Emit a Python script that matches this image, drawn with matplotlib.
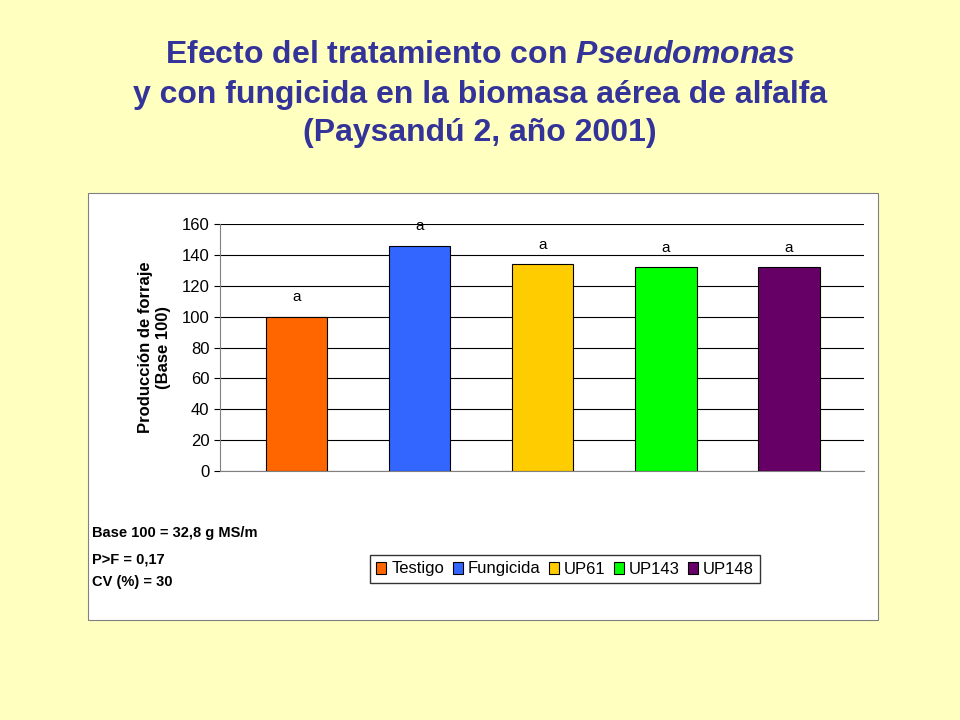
import matplotlib
matplotlib.use("Agg")
import matplotlib.pyplot as plt
from matplotlib.patches import Rectangle

categories = ["Testigo", "Fungicida", "UP61", "UP143", "UP148"]
values = [100, 146, 134, 132, 132]
letters = ["a", "a", "a", "a", "a"]
colors = ["#FF6600", "#3366FF", "#FFCC00", "#00FF00", "#660066"]
yticks = [0, 20, 40, 60, 80, 100, 120, 140, 160]

plt.rcParams["font.family"] = "Liberation Sans"
plt.rcParams["mathtext.fontset"] = "custom"
plt.rcParams["mathtext.it"] = "Liberation Sans:italic:bold"
W, H = 960, 720
fig = plt.figure(figsize=(9.6, 7.2), dpi=100, facecolor="#FFFFC0")

def fx(x): return x / W
def fy(y): return 1 - y / H

fig.text(0.5, fy(55), "Efecto del tratamiento con $\\mathit{Pseudomonas}$", ha="center", va="center",
         fontsize=23, fontweight="bold", color="#333399")
fig.text(0.5, fy(95), "y con fungicida en la biomasa aérea de alfalfa", ha="center", va="center",
         fontsize=23, fontweight="bold", color="#333399")
fig.text(0.5, fy(133), "(Paysandú 2, año 2001)", ha="center", va="center",
         fontsize=23, fontweight="bold", color="#333399")

fig.patches.append(Rectangle((fx(88), fy(620)), fx(878 - 88), (620 - 193) / H, zorder=-5,
                             transform=fig.transFigure, facecolor="white", edgecolor="#808080", lw=0.8))

ax = fig.add_axes([fx(220), fy(471), fx(864 - 220), (471 - 224) / H])
ax.set_zorder(2)
ax.set_facecolor("white")
x = list(range(len(categories)))
bars = ax.bar(x, values, width=0.5, color=colors, edgecolor="black", linewidth=0.8, zorder=3, label=categories)
for xi, v, l in zip(x, values, letters):
    ax.text(xi, v + 8, l, ha="center", va="bottom", fontsize=11)
ax.set_ylim(0, 160)
ax.set_xlim(-0.62, 4.61)
ax.set_yticks(yticks)
ax.tick_params(axis="y", labelsize=12, length=4)
ax.set_xticks([])
ax.grid(axis="y", color="black", lw=0.8, zorder=0)
for s in ["top", "right"]:
    ax.spines[s].set_visible(False)
ax.spines["bottom"].set_color("#808080")
ax.spines["left"].set_color("#808080")
ax.set_ylabel("Producción de forraje\n(Base 100)", fontsize=12, fontweight="bold", labelpad=8)

leg = fig.legend(bars, categories, loc="center", bbox_to_anchor=(fx(565), fy(569)), ncol=5,
           fontsize=12, frameon=True, fancybox=False, edgecolor="black", handlelength=0.6,
           handletextpad=0.3, columnspacing=0.5, borderpad=0.4)
leg.set_zorder(3)

for yy, t in [(533, "Base 100 = 32,8 g MS/m"), (559, "P>F = 0,17"), (582, "CV (%) = 30")]:
    fig.text(fx(92), fy(yy), t, fontsize=10.5, fontweight="bold", va="center")

fig.savefig("out.png", dpi=100, facecolor=fig.get_facecolor())
